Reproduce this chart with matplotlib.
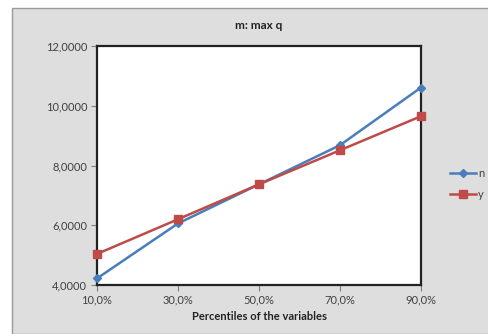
import matplotlib
matplotlib.use("Agg")
import matplotlib.pyplot as plt
from matplotlib.patches import Rectangle
from matplotlib.ticker import FuncFormatter

# Percentile categories and the two series
percentiles = ["10,0%", "30,0%", "50,0%", "70,0%", "90,0%"]
n_values = [4.22, 6.06, 7.37, 8.68, 10.61]
y_values = [5.04, 6.20, 7.37, 8.51, 9.65]
y_ticks = [4, 6, 8, 10, 12]

plt.rcParams["font.family"] = ["Lato", "DejaVu Sans"]

W, H = 488, 334
fig = plt.figure(figsize=(W / 100, H / 100), dpi=100)
fig.patch.set_facecolor("white")

# grey chart area with its thin border
fig.patches.append(Rectangle((12 / W, 0), 1, 1 - 8 / H, transform=fig.transFigure,
                             facecolor="#dedede", edgecolor="#9a9a9a", linewidth=1.0,
                             zorder=-5))

ax = fig.add_axes([97 / W, 49 / H, (421 - 97) / W, (285 - 46) / H])
ax.set_facecolor("white")

x = list(range(len(percentiles)))
ax.plot(x, n_values, color="#4a7ebb", linewidth=1.8, marker="D", markersize=4.5,
        label="n", zorder=3, clip_on=False)
ax.plot(x, y_values, color="#be4b48", linewidth=1.8, marker="s", markersize=6,
        label="y", zorder=3, clip_on=False)

ax.set_xlim(0, len(percentiles) - 1)
ax.set_ylim(4, 12)
ax.set_xticks(x)
ax.set_xticklabels(percentiles)
ax.set_yticks(y_ticks)
ax.yaxis.set_major_formatter(FuncFormatter(lambda v, p: f"{v:.4f}".replace(".", ",")))

for side in ax.spines.values():
    side.set_color("#222222")
    side.set_linewidth(1.6)

ax.tick_params(axis="both", direction="out", length=4, width=0.8, color="#808080",
               labelsize=8, labelcolor="#404040", pad=3)

ax.set_title("m: max q", fontsize=8.5, fontweight="bold", color="#222222", pad=12)
ax.set_xlabel("Percentiles of the variables", fontsize=8, fontweight="bold",
              color="#222222", labelpad=4)

fig.legend(loc="center left", bbox_to_anchor=(440 / W, 1 - 184 / H), frameon=False,
           fontsize=8, handlelength=2.3, handletextpad=0.2, labelspacing=0.9,
           labelcolor="#404040")

fig.savefig("out.png", dpi=100)
